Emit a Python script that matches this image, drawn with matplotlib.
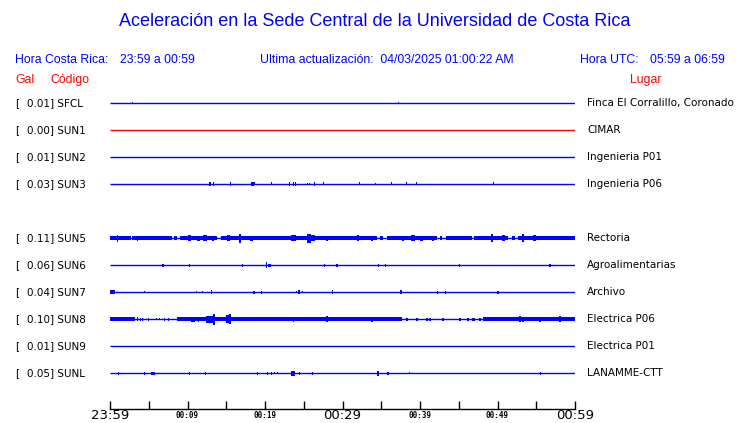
import numpy as np
from matplotlib import pyplot as plt

# estaciones, de arriba hacia abajo (el hueco de SUN4 queda vacio)
codes = ['SFCL', 'SUN1', 'SUN2', 'SUN3', 'SUN5', 'SUN6', 'SUN7', 'SUN8', 'SUN9', 'SUNL']
slots = [0, 1, 2, 3, 5, 6, 7, 8, 9, 10]
gal = [0.01, 0.00, 0.01, 0.03, 0.11, 0.06, 0.04, 0.10, 0.01, 0.05]
places = ['Finca El Corralillo, Coronado', 'CIMAR', 'Ingenieria P01', 'Ingenieria P06',
          'Rectoria', 'Agroalimentarias', 'Archivo', 'Electrica P06', 'Electrica P01',
          'LANAMME-CTT']
colors = ['blue', 'red', 'blue', 'blue', 'blue', 'blue', 'blue', 'blue', 'blue', 'blue']

# minutos desde 23:59
tick_minutes = [0, 10, 20, 30, 40, 50, 60]
tick_labels = ['23:59', '00:09', '00:19', '00:29', '00:39', '00:49', '00:59']
big_labels = ['23:59', '00:29', '00:59']

# eventos: (minuto, semi-amplitud, ancho en minutos)
SFCL_EV = [(2.9, 1.2, 0.13), (37.2, 1.2, 0.13)]
SUN3_EV = [(12.9, 2, 0.3), (13.4, 2, 0.13), (15.6, 2, 0.15), (18.4, 2, 0.3), (18.7, 1.5, 0.13),
           (20.9, 1.5, 0.13), (23.1, 2, 0.13), (23.7, 2, 0.13), (23.9, 2, 0.13), (25.5, 1, 0.13),
           (25.8, 1, 0.13), (26.4, 2, 0.2), (27.6, 1.5, 0.13), (32.2, 1.5, 0.13), (34.2, 1, 0.13),
           (36.3, 1.5, 0.13), (38.3, 1.5, 0.13), (39.6, 1.5, 0.13), (49.5, 1.5, 0.13)]
SUN5_BAND = [(0, 2.67), (2.8, 7.96), (8.3, 8.6), (9.03, 13.85), (14.3, 34.41), (34.9, 35.2),
             (35.7, 42.15), (42.6, 42.9), (43.4, 46.67), (47.0, 51.4), (51.9, 52.2), (52.6, 60)]
SUN5_EV = [(0.95, 3.5, 0.15), (3.5, 2.5, 0.15), (10.2, 3, 0.4), (11.4, 2.5, 0.3), (12.3, 3, 0.5),
           (13.3, 2.5, 0.3), (15.3, 3, 0.3), (16.8, 4.5, 0.3), (18.3, 2.5, 0.4), (23.7, 3, 0.6),
           (25.7, 4.5, 0.5), (26.2, 3, 0.6), (28.0, 2.5, 0.3), (32.0, 3, 0.3), (33.8, 2.5, 0.3),
           (37.8, 2.5, 0.3), (39.1, 3, 0.4), (40.2, 2.5, 0.3), (41.7, 2.5, 0.3), (49.3, 4, 0.3),
           (50.8, 3, 0.4), (53.3, 4, 0.15), (54.8, 3, 0.4)]
SUN6_EV = [(6.8, 1.5, 0.25), (10.2, 1.5, 0.13), (17.1, 1.5, 0.15), (20.2, 3, 0.13), (20.6, 1.5, 0.3),
           (27.7, 1.5, 0.13), (29.3, 1.5, 0.15), (34.7, 1.5, 0.13), (35.5, 1.5, 0.13),
           (45.1, 1.5, 0.25), (56.8, 1.5, 0.25)]
SUN7_EV = [(0.3, 1.7, 0.6), (4.5, 1, 0.13), (11.1, 1, 0.13), (11.9, 1, 0.13), (13.1, 2, 0.2),
           (18.6, 1.5, 0.2), (19.6, 1.5, 0.15), (24.1, 1, 0.13), (24.4, 2, 0.25), (24.8, 1, 0.13),
           (28.7, 2, 0.2), (37.6, 2, 0.25), (42.2, 1.5, 0.13), (43.3, 1.5, 0.13), (50.1, 1.5, 0.3)]
SUN8_BAND = [(0, 3.2), (8.6, 37.7), (48.1, 60)]
SUN8_EV = [(3.57, 2, 0.2), (3.96, 1.5, 0.15), (4.2, 1.5, 0.15), (4.95, 1.5, 0.2), (6.0, 1, 0.13),
           (6.45, 1, 0.13), (6.97, 1.5, 0.13), (7.6, 1.5, 0.13), (10.7, 2.5, 0.5), (11.4, 2.5, 0.2),
           (12.9, 3.5, 1.1), (13.4, 5.5, 0.2), (15.3, 4, 0.6), (15.5, 5, 0.2), (17.6, 2, 0.2),
           (19.3, 2, 0.2), (20.8, 2, 0.2), (23.7, 2.5, 0.2), (24.1, 2, 0.3), (24.9, 2, 0.2),
           (28.0, 3, 0.3), (29.0, 2, 0.2), (33.8, 2.5, 0.3), (38.3, 1.5, 0.25), (39.6, 1.5, 0.25),
           (40.9, 1.5, 0.2), (41.3, 1.5, 0.2), (43.0, 1.5, 0.3), (45.2, 1.5, 0.3), (46.2, 1.5, 0.2),
           (46.9, 1.5, 0.3), (47.7, 1.5, 0.3), (52.9, 3, 0.2), (53.3, 2.5, 0.2), (55.5, 2.5, 0.2),
           (57.2, 2, 0.2), (58.1, 3, 0.3)]
SUNL_EV = [(1.1, 1.5, 0.13), (4.5, 1.5, 0.13), (5.4, 1.5, 0.13), (5.6, 1.5, 0.3), (10.3, 1.5, 0.13),
           (12.3, 1.5, 0.13), (19.0, 1.5, 0.13), (20.3, 1.5, 0.13), (20.8, 1.5, 0.13),
           (21.2, 1, 0.13), (21.6, 1, 0.13), (23.6, 2.5, 0.5), (24.4, 1.5, 0.13), (26.1, 1.5, 0.13),
           (34.6, 2.5, 0.25), (35.9, 1.5, 0.3), (38.7, 1, 0.13), (55.5, 1.5, 0.13)]

events = {'SFCL': SFCL_EV, 'SUN3': SUN3_EV, 'SUN5': SUN5_EV, 'SUN6': SUN6_EV,
          'SUN7': SUN7_EV, 'SUN8': SUN8_EV, 'SUNL': SUNL_EV}
bands = {'SUN5': SUN5_BAND, 'SUN8': SUN8_BAND}
BAND_AMP = 2.2

W, H = 740, 423
fig = plt.figure(figsize=(W / 100, H / 100), dpi=100)

# eje en "pixeles" verticales, 0 arriba
x0, x1 = 110, 575
y_axis, y_top = 409, 90
ax = fig.add_axes([x0 / W, (H - y_axis) / H, (x1 - x0) / W, (y_axis - y_top) / H])
ax.set_xlim(0, 60)
ax.set_ylim(y_axis, y_top)

first_row, row_gap = 103, 27
for code, slot, g, place, c in zip(codes, slots, gal, places, colors):
    y = first_row + slot * row_gap
    ax.plot([0, 60], [y, y], color=c, lw=1.0, solid_capstyle='butt')
    for t0, t1 in bands.get(code, []):
        ax.bar(t0, 2 * BAND_AMP, width=t1 - t0, bottom=y - BAND_AMP, align='edge', color=c, lw=0)
    for t, a, w in events.get(code, []):
        ax.bar(t, 2 * a, width=w, bottom=y - a, color=c, lw=0)
    yf = 1 - y / H
    fig.text(15 / W, yf, '[', fontsize=7.5, family='DejaVu Sans', va='center')
    fig.text(27 / W, yf, '%.2f] %s' % (g, code), fontsize=7.5, family='DejaVu Sans', va='center')
    fig.text(587 / W, yf, place, fontsize=7.5, family='DejaVu Sans', va='center')

for s in ['top', 'left', 'right']:
    ax.spines[s].set_visible(False)
ax.spines['bottom'].set_linewidth(1.0)
ax.set_yticks([])
ax.set_xticks(tick_minutes)
ax.set_xticks(np.arange(5, 60, 10), minor=True)
ax.tick_params(axis='x', which='both', direction='in', length=6, width=1, pad=4.5)
ax.set_xticklabels(tick_labels)
for lab in ax.get_xticklabels():
    lab.set_va('center')
    if lab.get_text() in big_labels:
        lab.set_fontsize(9.5)
        lab.set_family('DejaVu Sans')
    else:
        lab.set_fontsize(5.5)
        lab.set_family('DejaVu Sans Mono')
        lab.set_fontweight('bold')

# encabezados
hf = 'Liberation Sans'
hs = 8.8
fig.text(375 / W, 1 - 22 / H, 'Aceleración en la Sede Central de la Universidad de Costa Rica',
         fontsize=13, family=hf, color='blue', ha='center', va='center')
fig.text(15 / W, 1 - 60 / H, 'Hora Costa Rica:', fontsize=hs, family=hf, color='blue', va='center')
fig.text(120 / W, 1 - 60 / H, '23:59 a 00:59', fontsize=hs, family=hf, color='blue', va='center')
fig.text(260 / W, 1 - 60 / H, 'Ultima actualización:  04/03/2025 01:00:22 AM', fontsize=hs,
         family=hf, color='blue', va='center')
fig.text(580 / W, 1 - 60 / H, 'Hora UTC:', fontsize=hs, family=hf, color='blue', va='center')
fig.text(650 / W, 1 - 60 / H, '05:59 a 06:59', fontsize=hs, family=hf, color='blue', va='center')
fig.text(15 / W, 1 - 80 / H, 'Gal', fontsize=hs, family=hf, color='red', va='center')
fig.text(50 / W, 1 - 80 / H, 'Código', fontsize=hs, family=hf, color='red', va='center')
fig.text(646 / W, 1 - 80 / H, 'Lugar', fontsize=hs, family=hf, color='red', va='center', ha='center')

fig.savefig('out.png', dpi=100)
